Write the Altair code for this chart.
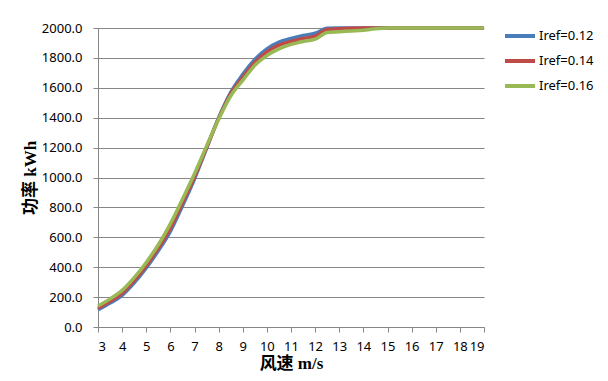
import altair as alt
import pandas as pd

speed = [3, 3.5, 4, 4.5, 5, 5.5, 6, 6.5, 7, 7.5, 8, 8.5, 9, 9.5, 10, 10.5, 11,
         11.5, 12, 12.5, 13, 13.5, 14, 14.5, 15, 15.5, 16, 16.5, 17, 17.5, 18, 18.5, 19]

p012 = [115, 160, 212, 295, 395, 510, 640, 810, 990, 1195, 1400, 1570, 1690, 1790, 1860, 1905, 1930,
        1950, 1965, 1998, 2000, 2000, 2000, 2000, 2000, 2000, 2000, 2000, 2000, 2000, 2000, 2000, 2000]
p014 = [125, 172, 225, 310, 410, 528, 660, 830, 1005, 1200, 1395, 1560, 1670, 1770, 1840, 1885, 1910,
        1930, 1945, 1990, 1995, 1998, 2000, 2000, 2000, 2000, 2000, 2000, 2000, 2000, 2000, 2000, 2000]
p016 = [140, 188, 245, 330, 432, 550, 690, 855, 1025, 1210, 1390, 1545, 1650, 1750, 1815, 1860, 1890,
        1910, 1925, 1970, 1975, 1980, 1985, 1995, 2000, 2000, 2000, 2000, 2000, 2000, 2000, 2000, 2000]

series = ["Iref=0.12", "Iref=0.14", "Iref=0.16"]
colors = ["#4a7ebb", "#be4b48", "#98b954"]
x_ticks = list(range(3, 20))
y_ticks = list(range(0, 2001, 200))

rows = []
for name, vals in zip(series, [p012, p014, p016]):
    for s, v in zip(speed, vals):
        rows.append({"speed": s, "power": v, "series": name})
df = pd.DataFrame(rows)

chart = alt.Chart(df).mark_line(strokeWidth=3.5, interpolate="monotone").encode(
    x=alt.X("speed:Q",
            scale=alt.Scale(domain=[3, 19], nice=False, zero=False),
            axis=alt.Axis(values=x_ticks, title="风速 m/s", grid=False, format="d",
                          labelPadding=8, titlePadding=2)),
    y=alt.Y("power:Q",
            scale=alt.Scale(domain=[0, 2000], nice=False),
            axis=alt.Axis(values=y_ticks, title="功率 kWh", format=".1f", grid=True,
                          labelPadding=11, titlePadding=2)),
    color=alt.Color("series:N",
                    scale=alt.Scale(domain=series, range=colors),
                    legend=alt.Legend(title=None, orient="none", legendX=405, legendY=-9,
                                      symbolType="stroke", symbolSize=900,
                                      symbolStrokeWidth=4, rowPadding=-4,
                                      labelOffset=2)),
).properties(
    width=386, height=299,
    autosize=alt.AutoSizeParams(type="none"),
    padding={"left": 90, "top": 20, "right": 116, "bottom": 46},
).configure_view(stroke=None).configure_axis(
    labelFont="Noto Sans", labelFontSize=13, labelColor="#000000",
    titleFont="Liberation Serif, Noto Sans CJK SC", titleFontSize=17, titleFontWeight="bold",
    titleColor="#000000",
    domainColor="#868686", tickColor="#868686", gridColor="#868686",
    tickSize=5, domainWidth=1, gridWidth=1,
).configure_legend(
    labelFont="Noto Sans", labelFontSize=13, labelColor="#000000",
)

chart.save("out.html", embed_options={"renderer": "svg", "actions": False})
